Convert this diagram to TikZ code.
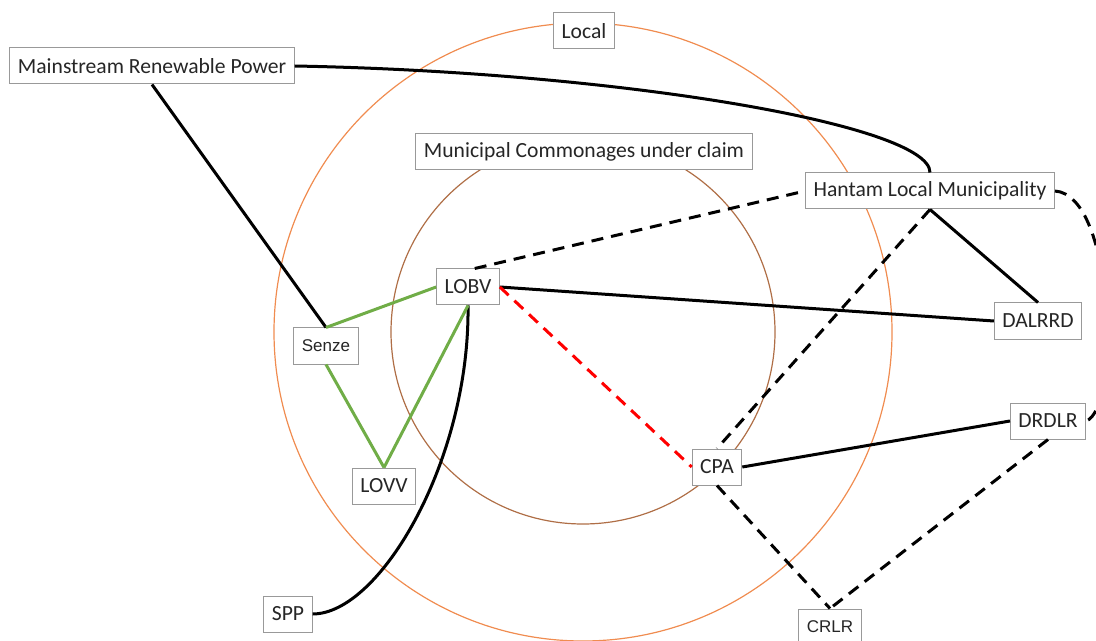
\documentclass[tikz,border=0pt]{standalone}
\usepackage{fontspec}
\setmainfont{Carlito}
\newfontfamily\arialfont{Liberation Sans}
\usetikzlibrary{calc}
\definecolor{localorange}{RGB}{240,140,80}
\definecolor{commonbrown}{RGB}{175,110,70}
\definecolor{linkgreen}{RGB}{112,173,71}

\begin{document}
\begin{tikzpicture}[x=0.5pt,y=-0.5pt,
  box/.style={draw=gray!80, fill=white, line width=0.5pt, inner xsep=4pt, inner ysep=0pt,
    minimum height=18pt, text=black!85, font=\fontsize{10.8}{12}\selectfont},
  smallbox/.style={box, font=\arialfont\fontsize{8.5}{10}\selectfont},
  link/.style={line width=1.5pt},
  dashlink/.style={line width=1.5pt, dash pattern=on 6pt off 4pt},
  greenlink/.style={line width=1.5pt, linkgreen},
  redlink/.style={line width=1.5pt, red, dash pattern=on 6pt off 4pt}]
  \useasboundingbox (0,0) rectangle (1096,641);
  \clip (0,0) rectangle (1096,641);

  % the two areas
  \draw [localorange, line width=0.6pt] (583,332) circle (154.5pt);
  \draw [commonbrown, line width=0.6pt] (583,332) circle (96pt);

  \node [box] (local) at (584,31) {Local};
  \node [box] (mcuc) at (584,152) {Municipal Commonages under claim};
  \node [box] (mrp) at (152,66) {Mainstream Renewable Power};
  \node [box] (hlm) at (930,191) {Hantam Local Municipality};
  \node [box] (dalrrd) at (1038,321) {DALRRD};
  \node [box] (lobv) at (468,287) {LOBV};
  \node [smallbox] (senze) at (326,346) {Senze};
  \node [box] (lovv) at (384,486) {LOVV};
  \node [box] (cpa) at (717,467) {CPA};
  \node [box] (drdlr) at (1048,421) {DRDLR};
  \node [smallbox] (crlr) at (830,627) {CRLR};
  \node [box] (spp) at (288,614) {SPP};

  % solid links
  \draw [link] (mrp.east) .. controls (620,72) and (930,125) .. (hlm.north);
  \draw [link] (mrp.south) -- (senze.north);
  \draw [link] (lobv.east) -- (dalrrd.west);
  \draw [link] (lobv.south) .. controls (470,460) and (380,614) .. (spp.east);
  \draw [link] (hlm.south) -- (dalrrd.north);
  \draw [link] (cpa.east) -- (drdlr.west);

  \draw [greenlink] (senze.north) -- (lobv.west);
  \draw [greenlink] (senze.south) -- (lovv.north);
  \draw [greenlink] (lobv.south) -- (lovv.north);

  % dashed links
  \draw [redlink] (lobv.east) -- (cpa.west);
  \draw [dashlink] (lobv.70) -- (hlm.west);
  \draw [dashlink] (hlm.south) -- (cpa.north);
  \draw [dashlink] (hlm.east) .. controls (1115,195) and (1120,410) .. (drdlr.east);
  \draw [dashlink] (cpa.south) -- (crlr.north);
  \draw [dashlink] (drdlr.south) -- (crlr.north);
\end{tikzpicture}
\end{document}
